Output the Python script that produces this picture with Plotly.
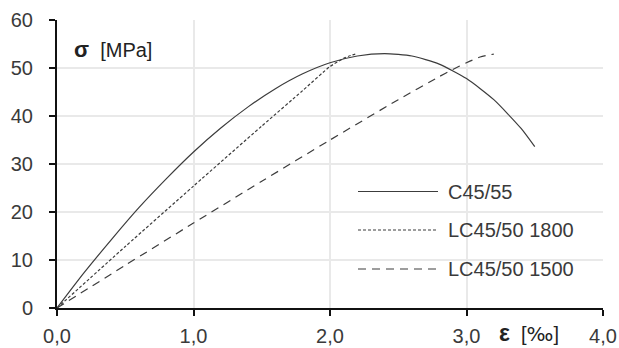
import plotly.graph_objects as go

# Data (strain in ‰, stress in MPa)
c_eps = [0.0, 0.2, 0.4, 0.6, 0.8, 1.0, 1.2, 1.4, 1.6, 1.8, 2.0, 2.2, 2.4, 2.6, 2.8, 3.0, 3.2, 3.4, 3.5]
c_sig = [0.0, 7.4, 14.3, 20.9, 26.9, 32.5, 37.5, 41.9, 45.7, 48.8, 51.1, 52.5, 53.0, 52.5, 50.8, 47.8, 43.4, 37.4, 33.6]

lc1800_eps = [0.0, 0.5, 1.0, 1.5, 1.8, 2.0, 2.1, 2.15, 2.2]
lc1800_sig = [0.0, 12.8, 25.4, 37.9, 45.3, 50.3, 52.0, 52.6, 53.0]

lc1500_eps = [0.0, 0.5, 1.0, 1.5, 2.0, 2.5, 2.8, 2.9, 3.0, 3.1, 3.2]
lc1500_sig = [0.0, 8.9, 17.7, 26.4, 35.0, 43.4, 48.2, 49.7, 51.1, 52.3, 52.9]

names = ["C45/55", "LC45/50 1800", "LC45/50 1500"]
x_ticks = [0, 1, 2, 3, 4]
x_ticktext = ["0,0", "1,0", "2,0", "3,0", "4,0"]
y_ticks = [0, 10, 20, 30, 40, 50, 60]

FONT = "Liberation Sans, Arial, sans-serif"
TXT = "#3a3a3a"
LINE = "#3c3c3c"
FS = 20

dashes = ["solid", "3px,2px", "8px,6px"]
series = [(c_eps, c_sig), (lc1800_eps, lc1800_sig), (lc1500_eps, lc1500_sig)]

W, H = 619, 348
L, R, T, B = 57, 16, 20, 40
pw, ph = W - L - R, H - T - B

def px_x(v):
    return (v - L) / pw

def px_y(v):
    return 1 - (v - T) / ph

fig = go.Figure()
for (xs, ys), nm, ds in zip(series, names, dashes):
    fig.add_trace(go.Scatter(x=xs, y=ys, mode="lines", name=nm,
                             line=dict(color=LINE, width=1.2, dash=ds, shape="spline", smoothing=0.6),
                             showlegend=False, hoverinfo="skip"))

# custom legend (white box hiding gridlines, long line samples)
shapes = [dict(type="rect", xref="paper", yref="paper", x0=px_x(343), x1=px_x(592),
               y0=px_y(290), y1=px_y(165),
               fillcolor="white", line=dict(width=0), layer="between")]
annotations = []
leg_y = [191.5, 230, 269]
for nm, ds, yy in zip(names, dashes, leg_y):
    shapes.append(dict(type="line", xref="paper", yref="paper", x0=px_x(358), x1=px_x(438),
                       y0=px_y(yy), y1=px_y(yy),
                       line=dict(color=LINE, width=1.2, dash=ds), layer="above"))
    annotations.append(dict(x=px_x(446), y=px_y(yy), xref="paper", yref="paper", text=nm,
                            showarrow=False, xanchor="left", yanchor="middle",
                            font=dict(family=FONT, size=FS, color=TXT)))

annotations.append(dict(x=px_x(72), y=px_y(50), xref="paper", yref="paper",
                        text="<b><span style='font-size:22px'>σ</span></b>\u00a0\u00a0[MPa]",
                        showarrow=False, xanchor="left", yanchor="middle",
                        font=dict(family=FONT, size=FS, color="#222")))
annotations.append(dict(x=px_x(497), y=px_y(333), xref="paper", yref="paper",
                        text="<b><span style='font-size:23px'>ε</span></b>\u00a0\u00a0[<span style='font-family:DejaVu Sans'>‰</span>]",
                        showarrow=False, xanchor="left", yanchor="middle",
                        font=dict(family=FONT, size=FS, color="#222")))

fig.update_layout(
    width=W, height=H,
    margin=dict(l=L, r=R, t=T, b=B, autoexpand=False),
    paper_bgcolor="white", plot_bgcolor="white",
    shapes=shapes, annotations=annotations,
    font=dict(family=FONT, size=FS, color=TXT),
    xaxis=dict(range=[0, 4], tickvals=x_ticks, ticktext=x_ticktext,
               showgrid=True, gridcolor="#e9e9e9", gridwidth=1.5,
               showline=True, linecolor="#111", linewidth=2,
               ticks="outside", ticklen=6, tickwidth=1.5, tickcolor="#111",
               zeroline=False, ticklabelstandoff=3, automargin=False, fixedrange=True),
    yaxis=dict(range=[0, 60], tickvals=y_ticks,
               showgrid=True, gridcolor="#e9e9e9", gridwidth=1.5,
               showline=True, linecolor="#111", linewidth=2,
               ticks="outside", ticklen=6, tickwidth=1.5, tickcolor="#111",
               zeroline=False, ticklabelstandoff=12, automargin=False, fixedrange=True),
    showlegend=False,
)

fig.write_html("out.html")
